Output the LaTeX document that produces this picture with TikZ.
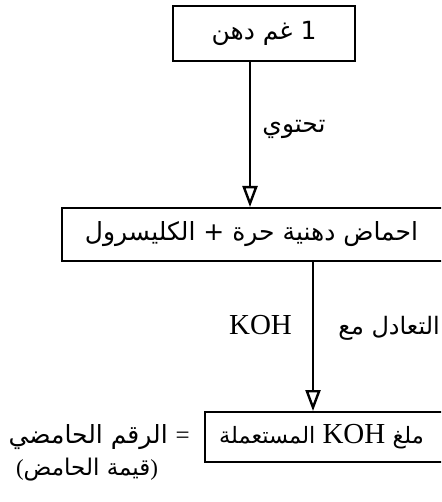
\documentclass[tikz,border=0pt]{standalone}
\usepackage{fontspec}
\setmainfont{Liberation Serif}
\newfontfamily\arabicfont[Script=Arabic]{DejaVu Sans}
\TeXXeTstate=1
\usetikzlibrary{arrows.meta}
\begin{document}
\begin{tikzpicture}[x=1pt,y=-1pt,
  box/.style={draw, line width=2pt, inner sep=0pt, font=\arabicfont\fontsize{25}{28}\selectfont},
  arr/.style={line width=1.8pt, -{Triangle[open, length=21pt, width=15pt, line width=2.4pt]}},
  ar/.style={font=\arabicfont\fontsize{25}{28}\selectfont, inner sep=0pt},
  lat/.style={font=\fontsize{29}{31}\selectfont, inner sep=0pt}]
\useasboundingbox (0,0) rectangle (441,502);
\clip (0,0) rectangle (441,502);
\fill[white] (0,0) rectangle (441,502);
\node[box, minimum width=182pt, minimum height=55pt] (b1) at (264,33.5) {\beginR 1 غم دهن\endR};
\node[box, minimum width=398pt, minimum height=53pt] (b2) at (261,234.5) {\beginR احماض دهنية حرة + الكليسرول\endR\hspace*{19pt}};
\node[box, minimum width=255pt, minimum height=50pt, font=\arabicfont\fontsize{22.5}{26}\selectfont] (b3) at (332.5,437) {\beginR ملغ \beginL{\rmfamily\fontsize{29}{31}\selectfont KOH}\endL{} المستعملة\endR\hspace*{22pt}};
\node[ar] (l1) at (294,129) {\beginR تحتوي\endR};
\node[lat] (koh) at (260.5,325) {KOH};
\node[ar, anchor=east, font=\arabicfont\fontsize{24}{27}\selectfont] (l2) at (440,328) {\beginR التعادل مع\endR};
\node[ar, anchor=east] (l3) at (190,437) {\beginR الرقم الحامضي\endR\ {\rmfamily =}};
\node[ar, font=\arabicfont\fontsize{23}{26}\selectfont] (l4) at (87,470) {{\rmfamily(}\beginR قيمة الحامض\endR{\rmfamily)}};
\coordinate (c1) at (250,0);
\coordinate (c2) at (313,0);
\draw[arr] (b1.south -| c1) -- (b2.north -| c1);
\draw[arr] (b2.south -| c2) -- (b3.north -| c2);
\end{tikzpicture}
\end{document}
